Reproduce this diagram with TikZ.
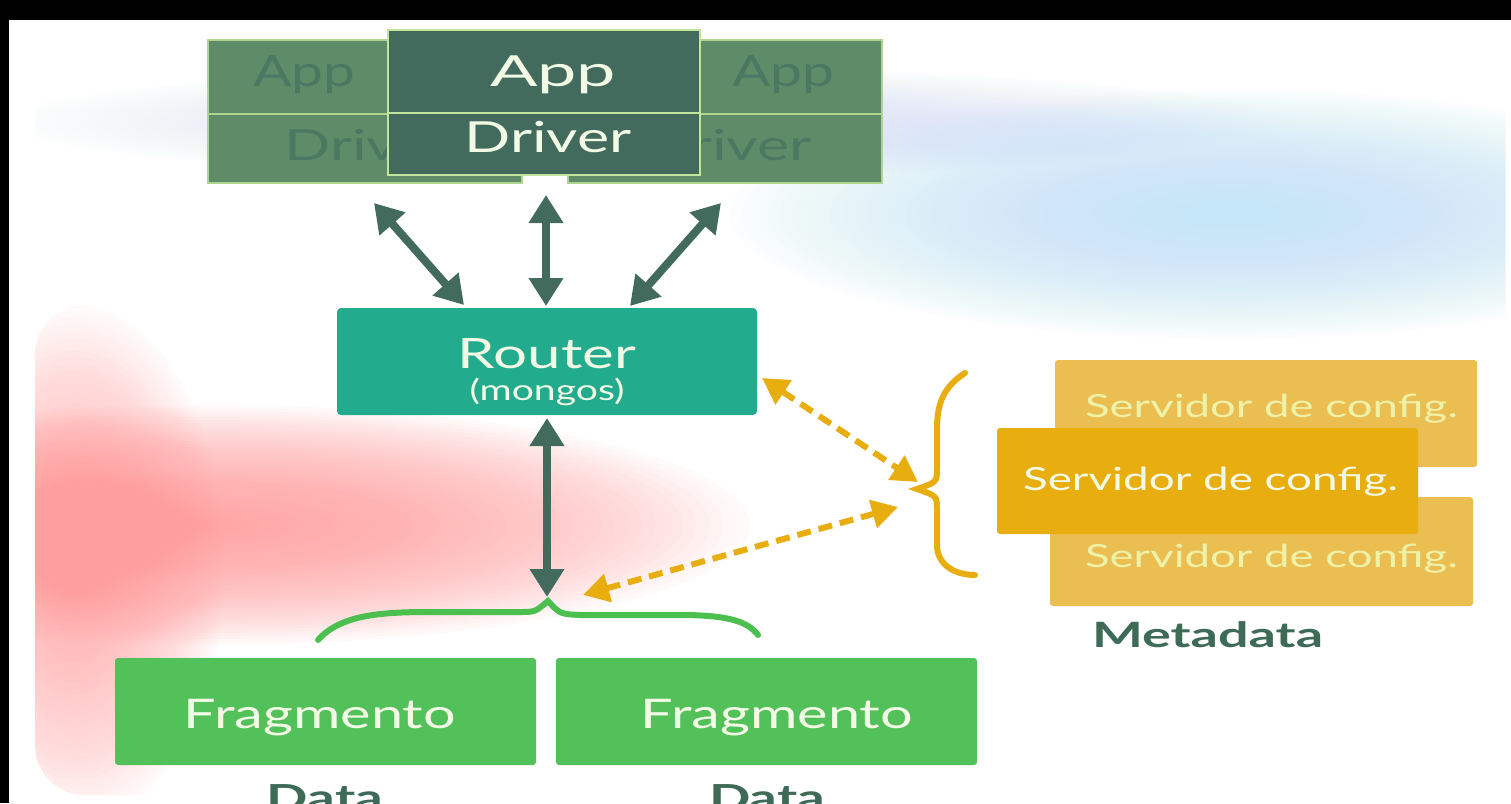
\documentclass[tikz,border=0pt]{standalone}
\usepackage{fontspec}
\setmainfont{Lato}
\usepackage{graphicx}
\usetikzlibrary{arrows.meta}
\definecolor{backgreen}{HTML}{5F8C68}
\definecolor{backtext}{HTML}{4A7862}
\definecolor{frontgreen}{HTML}{426B5E}
\definecolor{edgegreen}{HTML}{C2E69A}
\definecolor{routercol}{HTML}{23AB8D}
\definecolor{fragcol}{HTML}{52C15A}
\definecolor{bracegreen}{HTML}{4CC04F}
\definecolor{orangecol}{HTML}{E8AE10}
\definecolor{cfgback}{HTML}{EBBE52}
\definecolor{cfgtext}{HTML}{EEF2A8}
\definecolor{labelcol}{HTML}{3E6B57}
\definecolor{lighttext}{HTML}{F2FAE6}
\definecolor{bluehaze}{HTML}{C4E6F8}
\definecolor{pinkhaze}{HTML}{FF9E9E}
\newcommand{\tw}[2]{\resizebox{#1bp}{\height}{#2}}
% soft haze: stacked translucent ellipses
\newcommand{\haze}[6]{%
  \foreach \k in {1,...,40}{%
    \fill[#1, fill opacity=#6] (#2,#3) ellipse [x radius={#4/40*\k}, y radius={#5/40*\k}];}}
\tikzset{
  box/.style={anchor=north west, inner sep=0pt, outer sep=0pt},
  txt/.style={inner sep=0pt, outer sep=0pt, anchor=base},
  darr/.style={draw=frontgreen, line width=8bp,
    {Triangle[length=28bp,width=33bp]}-{Triangle[length=28bp,width=33bp]}},
  oarr/.style={draw=orangecol, line width=6bp, dash pattern=on 14bp off 8bp,
    {Triangle[length=26bp,width=28bp]}-{Triangle[length=26bp,width=28bp]}},
}
\begin{document}
\begin{tikzpicture}[x=1bp,y=-1bp]
\useasboundingbox (0,0) rectangle (1511,803);
\clip (0,0) rectangle (1511,803);
\fill[white] (0,0) rectangle (1511,803);
% background hazes
\begin{scope}
\clip[rounded corners=30bp] (35,20) rectangle (1505,795);
\haze{bluehaze}{1230}{214}{500}{125}{0.045}
\haze{bluehaze}{640}{122}{640}{55}{0.02}
\end{scope}
\begin{scope}
\clip[rounded corners=50bp] (35,305) rectangle (1505,795);
\haze{pinkhaze}{210}{525}{540}{120}{0.045}
\haze{pinkhaze}{75}{565}{150}{260}{0.03}
\end{scope}
\fill[black] (0,0) rectangle (1511,20);
\fill[black] (0,0) rectangle (9,803);
% back App/Driver boxes
\node[box, fill=backgreen, draw=edgegreen!80!backgreen, line width=1.5bp,
  minimum width=314bp, minimum height=143bp] (backL) at (208,40) {};
\draw[edgegreen!80!backgreen, line width=1.5bp] (208,114) -- (522,114);
\node[box, fill=backgreen, draw=edgegreen!80!backgreen, line width=1.5bp,
  minimum width=314bp, minimum height=143bp] (backR) at (568,40) {};
\draw[edgegreen!80!backgreen, line width=1.5bp] (568,114) -- (882,114);
\node[txt, text=backtext, font=\fontsize{43}{50}\selectfont] (appL) at (304,87) {\tw{102}{App}};
\node[txt, text=backtext, font=\fontsize{43}{50}\selectfont] (drvL) at (368,160) {\tw{167}{Driver}};
\node[txt, text=backtext, font=\fontsize{43}{50}\selectfont] (appR) at (783,87) {\tw{102}{App}};
\node[txt, text=backtext, font=\fontsize{43}{50}\selectfont] (drvR) at (728,160) {\tw{167}{Driver}};
% front App/Driver box
\node[box, fill=frontgreen, draw=edgegreen, line width=2bp,
  minimum width=312bp, minimum height=145bp] (front) at (388,30) {};
\draw[edgegreen, line width=2bp] (388,113) -- (700,113);
\node[txt, text=lighttext, font=\fontsize{43}{50}\selectfont] (appF) at (553,87) {\tw{126}{App}};
\node[txt, text=lighttext, font=\fontsize{43}{50}\selectfont] (drvF) at (548,152) {\tw{167}{Driver}};
% router
\node[box, fill=routercol, rounded corners=4bp,
  minimum width=420bp, minimum height=107bp] (router) at (337,308) {};
\node[txt, text=lighttext, font=\fontsize{42}{50}\selectfont] (rtxt) at (547,368) {\tw{178}{Router}};
\node[txt, text=lighttext, font=\fontsize{29}{34}\selectfont] (mtxt) at (547,400) {\tw{155}{(mongos)}};
% fragments
\node[box, fill=fragcol, rounded corners=3bp,
  minimum width=421bp, minimum height=107bp] (fragL) at (115,658) {};
\node[box, fill=fragcol, rounded corners=3bp,
  minimum width=421bp, minimum height=107bp] (fragR) at (556,658) {};
\node[txt, text=lighttext, font=\fontsize{41}{50}\selectfont] (ftL) at (320,728) {\tw{272}{Fragmento}};
\node[txt, text=lighttext, font=\fontsize{41}{50}\selectfont] (ftR) at (777,728) {\tw{272}{Fragmento}};
\node[txt, text=labelcol, font=\fontsize{36}{40}\selectfont\bfseries] (dataL) at (325,810) {\tw{116}{Data}};
\node[txt, text=labelcol, font=\fontsize{36}{40}\selectfont\bfseries] (dataR) at (767,810) {\tw{116}{Data}};
% config servers
\node[box, fill=cfgback, rounded corners=3bp,
  minimum width=422bp, minimum height=107bp] (cfgT) at (1055,360) {};
\node[box, fill=cfgback, rounded corners=3bp,
  minimum width=423bp, minimum height=109bp] (cfgB) at (1050,497) {};
\node[box, fill=orangecol, rounded corners=3bp,
  minimum width=421bp, minimum height=106bp] (cfgF) at (997,428) {};
\node[txt, text=cfgtext, font=\fontsize{32}{38}\selectfont, anchor=base west] (ctT) at (1085,417) {\tw{373}{Servidor de config.}};
\node[txt, text=cfgtext, font=\fontsize{32}{38}\selectfont, anchor=base west] (ctB) at (1085,567) {\tw{373}{Servidor de config.}};
\node[txt, text=lighttext, font=\fontsize{32}{38}\selectfont, anchor=base west] (ctF) at (1023,490) {\tw{375}{Servidor de config.}};
\node[txt, text=labelcol, font=\fontsize{35}{40}\selectfont\bfseries, anchor=base west] (meta) at (1092,647) {\tw{231}{Metadata}};
% braces
\draw[bracegreen, line width=6bp, line cap=round]
  (318,640) .. controls (340,615) and (380,612) .. (430,612) -- (520,612)
  .. controls (535,612) .. (548,601) .. controls (560,614) .. (580,615) -- (680,615)
  .. controls (730,615) and (748,622) .. (758,635);
\draw[orangecol, line width=6bp, line cap=round]
  (965,373) .. controls (942,388) and (937,405) .. (937,430) -- (937,468)
  .. controls (937,482) .. (917,489) .. controls (937,496) .. (937,510) -- (937,545)
  .. controls (937,565) and (955,575) .. (975,575);
% connector end points
\coordinate (a1s) at (374,203); \coordinate (a1e) at (464,305);
\coordinate (a2s) at (546,195); \coordinate (a2e) at (546,306);
\coordinate (a3s) at (721,203); \coordinate (a3e) at (630,306);
\coordinate (a4s) at (547,418); \coordinate (a4e) at (547,597);
\coordinate (o1s) at (762,378); \coordinate (o1e) at (918,482);
\coordinate (o2s) at (898,507); \coordinate (o2e) at (583,595);
\draw[darr] (a1s) -- (a1e);
\draw[darr] (a2s) -- (a2e);
\draw[darr] (a3s) -- (a3e);
\draw[darr] (a4s) -- (a4e);
\draw[oarr] (o1s) -- (o1e);
\draw[oarr] (o2s) -- (o2e);
\end{tikzpicture}
\end{document}
